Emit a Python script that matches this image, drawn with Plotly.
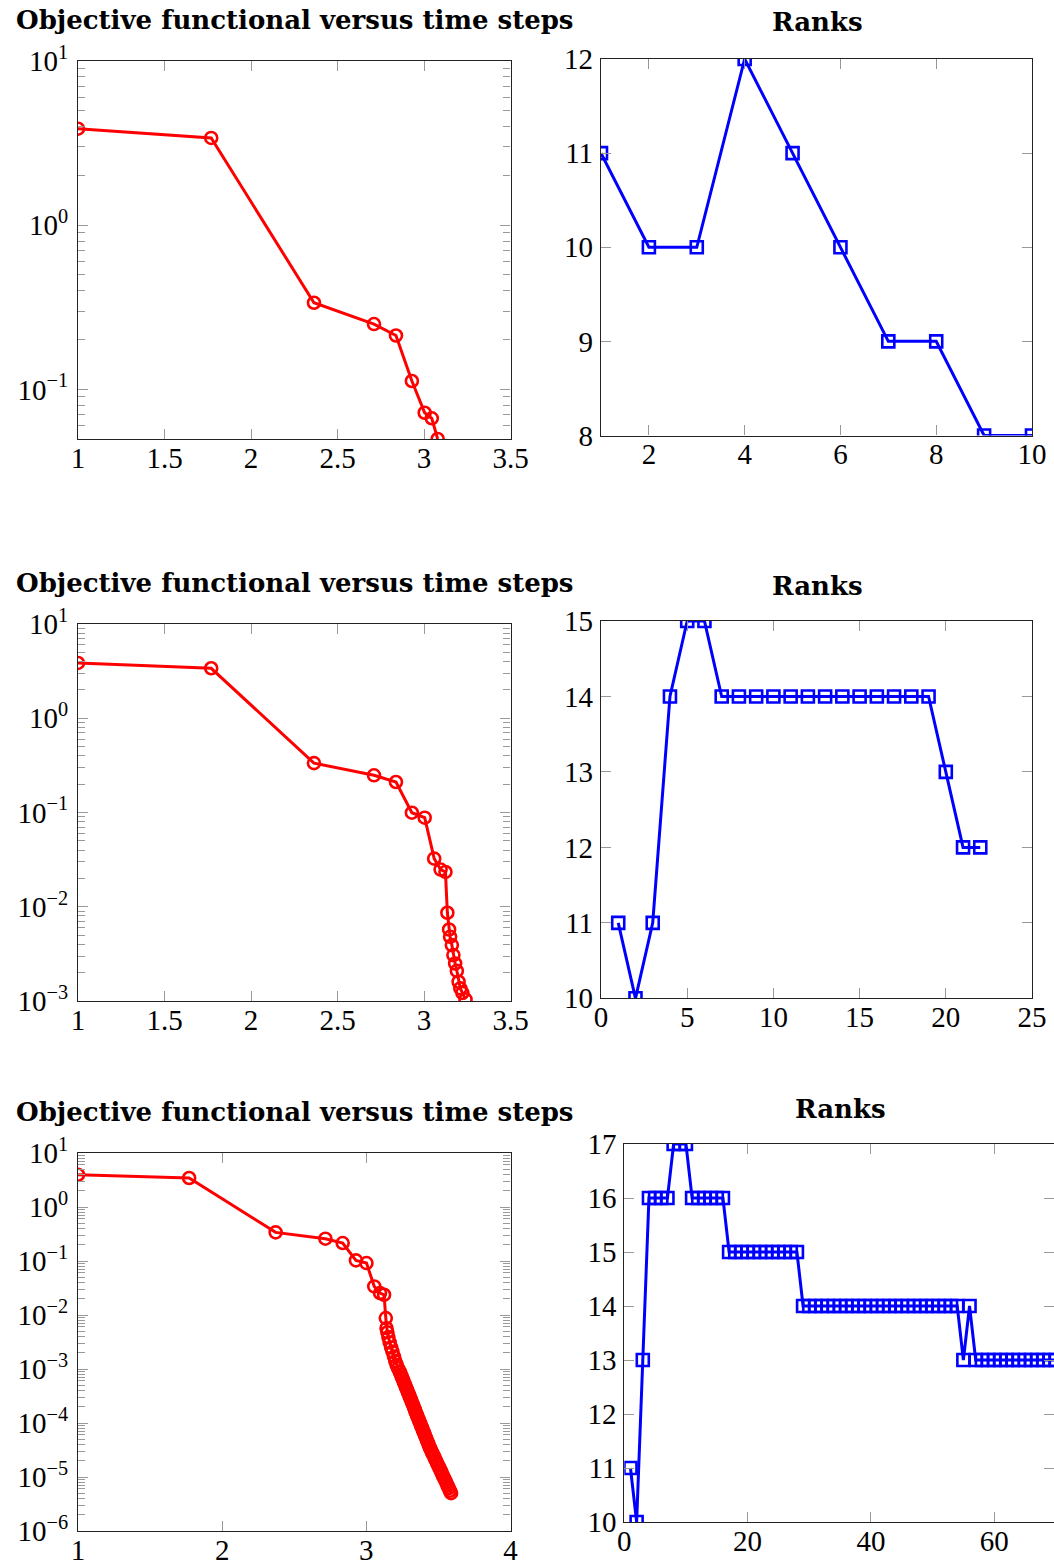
import plotly.graph_objects as go

# ---------------- data ----------------
# Row 1
obj1_x = [1.000, 1.770, 2.364, 2.711, 2.838, 2.930, 3.004, 3.045, 3.079]
obj1_y = [3.87, 3.40, 0.337, 0.250, 0.213, 0.1125, 0.0721, 0.0667, 0.0499]
rank1_x = [1, 2, 3, 4, 5, 6, 7, 8, 9, 10]
rank1_y = [11, 10, 10, 12, 11, 10, 9, 9, 8, 8]

# Row 2
obj2_x = [1.000, 1.770, 2.364, 2.711, 2.838, 2.930, 3.004, 3.059, 3.096, 3.124, 3.135,
          3.145, 3.151, 3.161, 3.170, 3.180, 3.190, 3.200, 3.210, 3.222, 3.240]
obj2_y = [3.86, 3.39, 0.334, 0.248, 0.2105, 0.0995, 0.0881, 0.0324, 0.0248, 0.0234, 0.00863,
          0.00574, 0.0048, 0.00392, 0.00307, 0.0025, 0.00209, 0.0016, 0.00136, 0.00122, 0.00104]
rank2_x = list(range(1, 23))
rank2_y = [11, 10, 11, 14, 15, 15, 14, 14, 14, 14, 14, 14, 14, 14, 14, 14, 14, 14, 14, 13, 12, 12]

# Row 3
obj3_x = [1.000, 1.771, 2.371, 2.716, 2.836, 2.928, 3.001, 3.055, 3.095, 3.123, 3.135,
          3.140, 3.146, 3.153, 3.162, 3.172, 3.181, 3.192, 3.201, 3.210, 3.220,
          3.232, 3.239, 3.246, 3.253, 3.260, 3.267, 3.274, 3.281, 3.288, 3.295,
          3.302, 3.309, 3.316, 3.323, 3.330, 3.337, 3.343, 3.350, 3.357, 3.364,
          3.371, 3.378, 3.385, 3.392, 3.399, 3.406, 3.413, 3.420, 3.427, 3.434,
          3.441, 3.449, 3.457, 3.466, 3.474, 3.482, 3.490, 3.498, 3.507, 3.515,
          3.523, 3.531, 3.540, 3.548, 3.556, 3.564, 3.572, 3.580, 3.588]
obj3_y = [3.96, 3.44, 0.339, 0.259, 0.215, 0.1025, 0.0916, 0.0338, 0.0255, 0.0237, 0.00877,
          5.7e-3, 4.8e-3, 3.9e-3, 3.1e-3, 2.5e-3, 2.1e-3, 1.7e-3, 1.4e-3, 1.2e-3, 1.03e-3,
          8.91e-4, 8.00e-4, 7.18e-4, 6.44e-4, 5.78e-4, 5.19e-4, 4.66e-4, 4.18e-4, 3.76e-4, 3.37e-4,
          3.03e-4, 2.72e-4, 2.44e-4, 2.19e-4, 1.97e-4, 1.76e-4, 1.58e-4, 1.42e-4, 1.28e-4, 1.15e-4,
          1.03e-4, 9.23e-5, 8.28e-5, 7.43e-5, 6.67e-5, 5.99e-5, 5.38e-5, 4.83e-5, 4.34e-5, 3.89e-5,
          3.49e-5, 3.13e-5, 2.81e-5, 2.52e-5, 2.26e-5, 2.03e-5, 1.83e-5, 1.64e-5, 1.47e-5, 1.32e-5,
          1.19e-5, 1.06e-5, 9.55e-6, 8.57e-6, 7.71e-6, 6.92e-6, 6.21e-6, 5.57e-6, 5.01e-6]
rank3_x = list(range(1, 72))
rank3_y = ([11, 10, 13] + [16] * 4 + [17] * 3 + [16] * 6 + [15] * 12 + [14] * 26
           + [13, 14] + [13] * 15)

title_obj = "Objective functional versus time steps"
title_rank = "Ranks"

# ---------------- style ----------------
W, H = 1054, 1564
RED = "#ff0000"
BLUE = "#0000ff"
TICKFONT = dict(family="Liberation Serif", size=29, color="black")
TITLEFONT = dict(family="DejaVu Serif", size=26, color="black")


def px_dom_x(a, b):
    return [a / W, min(b / W, 1.0)]


def px_dom_y(top, bottom):
    return [1 - bottom / H, 1 - top / H]


def sup(e):
    s = str(e).replace("-", "\u2212")
    return "10<sup>%s</sup>" % s


def log_axis(emin, emax):
    vals = [10.0 ** e for e in range(emin, emax + 1)]
    minor = [k * 10.0 ** e for e in range(emin - 1, emax) for k in range(2, 10)]
    return vals, [sup(e) for e in range(emin, emax + 1)], minor


common = dict(showgrid=False, zeroline=False, showline=True, linecolor="#222",
              linewidth=1.2, mirror="ticks", ticks="inside", ticklen=10,
              tickwidth=1.2, tickcolor="#999", tickfont=TICKFONT, automargin=False)

fig = go.Figure()

panels = [
    dict(kind="obj", x=obj1_x, y=obj1_y, xd=(78, 510.5), yd=(61, 439),
         xr=[1, 3.5], yr=[-1.302, 1], xt=[1, 1.5, 2, 2.5, 3, 3.5], e=(-1, 1)),
    dict(kind="rank", x=rank1_x, y=rank1_y, xd=(601, 1032), yd=(59, 435.5),
         xr=[1, 10], yr=[8, 12], xt=[2, 4, 6, 8, 10], yt=[8, 9, 10, 11, 12]),
    dict(kind="obj", x=obj2_x, y=obj2_y, xd=(78, 510.5), yd=(624, 1001),
         xr=[1, 3.5], yr=[-3, 1], xt=[1, 1.5, 2, 2.5, 3, 3.5], e=(-3, 1)),
    dict(kind="rank", x=rank2_x, y=rank2_y, xd=(601, 1032), yd=(621, 998.3),
         xr=[0, 25], yr=[10, 15], xt=[0, 5, 10, 15, 20, 25], yt=[10, 11, 12, 13, 14, 15]),
    dict(kind="obj", x=obj3_x, y=obj3_y, xd=(78, 510.5), yd=(1153, 1531),
         xr=[1, 4], yr=[-6, 1], xt=[1, 2, 3, 4], e=(-6, 1)),
    dict(kind="rank", x=rank3_x, y=rank3_y, xd=(624.3, 1054), yd=(1144, 1522),
         xr=[0, 69.7], yr=[10, 17], xt=[0, 20, 40, 60], yt=[10, 11, 12, 13, 14, 15, 16, 17]),
]

for i, p in enumerate(panels, start=1):
    xa = "x" if i == 1 else "x%d" % i
    ya = "y" if i == 1 else "y%d" % i
    if p["kind"] == "obj":
        fig.add_trace(go.Scatter(
            x=p["x"], y=p["y"], mode="lines+markers", xaxis=xa, yaxis=ya,
            line=dict(color=RED, width=3),
            marker=dict(symbol="circle-open", size=12, color=RED, line=dict(width=2.6, color=RED)),
            showlegend=False))
    else:
        fig.add_trace(go.Scatter(
            x=p["x"], y=p["y"], mode="lines+markers", xaxis=xa, yaxis=ya,
            line=dict(color=BLUE, width=3),
            marker=dict(symbol="square-open", size=12, color=BLUE, line=dict(width=2.6, color=BLUE)),
            showlegend=False))

    xkey = "xaxis" if i == 1 else "xaxis%d" % i
    ykey = "yaxis" if i == 1 else "yaxis%d" % i
    xaxis = dict(common, domain=px_dom_x(*p["xd"]), range=p["xr"], anchor=ya,
                 tickmode="array", tickvals=p["xt"],
                 ticktext=[("%g" % v) for v in p["xt"]], ticklabelstandoff=-7)
    if p["kind"] == "obj":
        vals, text, minor = log_axis(*p["e"])
        yaxis = dict(common, domain=px_dom_y(*p["yd"]), type="log", range=p["yr"], anchor=xa,
                     tickmode="array", tickvals=vals, ticktext=text, ticklabelstandoff=3,
                     minor=dict(tickmode="array", tickvals=minor, ticks="inside", ticklen=7,
                                tickwidth=1, tickcolor="#999", showgrid=False))
    else:
        yaxis = dict(common, domain=px_dom_y(*p["yd"]), range=p["yr"], anchor=xa,
                     tickmode="array", tickvals=p["yt"], ticklabelstandoff=1,
                     ticktext=[str(v) for v in p["yt"]])
    fig.layout[xkey] = xaxis
    fig.layout[ykey] = yaxis

titles = [
    (title_obj, 295, 20), (title_rank, 817, 22),
    (title_obj, 295, 583), (title_rank, 817, 586),
    (title_obj, 295, 1112), (title_rank, 840, 1109),
]
annotations = []
for t, cx, cy in titles:
    annotations.append(dict(text="<b>%s</b>" % t, xref="paper", yref="paper",
                            x=cx / W, y=1 - cy / H, xanchor="center", yanchor="middle",
                            showarrow=False, font=TITLEFONT))

fig.update_layout(width=W, height=H, margin=dict(l=0, r=0, t=0, b=0, autoexpand=False),
                  paper_bgcolor="white", plot_bgcolor="white",
                  annotations=annotations, showlegend=False)

fig.write_html("out.html",
               post_script="document.body.style.margin='0px';"
                           "document.body.style.padding='0px';"
                           "document.body.style.overflow='hidden';")
